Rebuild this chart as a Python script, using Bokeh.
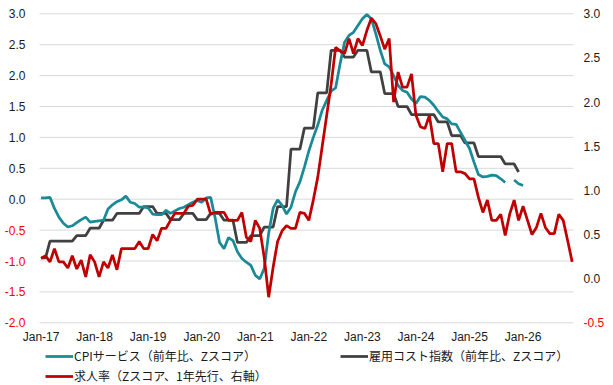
import numpy as np
from bokeh.plotting import figure
from bokeh.models import (Range1d, LinearAxis, FixedTicker, Legend, LegendItem,
                          ColumnDataSource, PrintfTickFormatter)
from bokeh.embed import file_html
from bokeh.resources import INLINE

nan = float("nan")

# ---------------- data (monthly, starting Jan-2017) ----------------
cpi_services = [
    0.02, 0.02, 0.03, -0.15, -0.29, -0.39, -0.45, -0.43, -0.38, -0.33, -0.29, -0.37,
    -0.36, -0.35, -0.34, -0.16, -0.09, -0.04, -0.01, 0.05, -0.05, -0.07, -0.13, -0.13,
    -0.14, -0.24, -0.25, -0.25, -0.18, -0.23, -0.19, -0.15, -0.13, -0.09, -0.05, -0.02,
    -0.05, 0.02, 0.03, -0.30, -0.70, -0.80, -0.62, -0.67, -0.85, -0.96, -1.02, -1.07,
    -1.23, -1.29, -1.12, -0.55, -0.15, -0.01, -0.10, -0.24, -0.13, 0.12, 0.28, 0.52,
    0.78, 1.00, 1.20, 1.44, 1.60, 1.75, 1.80, 2.19, 2.54, 2.65, 2.70, 2.81,
    2.92, 2.99, 2.92, 2.68, 2.41, 2.19, 2.14, 2.00, 1.84, 1.76, 1.73, 1.62,
    1.55, 1.66, 1.65, 1.60, 1.52, 1.42, 1.33, 1.30, 1.22, 1.21, 1.08, 0.95,
    0.82, 0.60, 0.40, 0.36, 0.37, 0.39, 0.38, 0.33, 0.27, nan, 0.31, 0.25,
    0.22,
]

employment_cost = [
    -0.95, -0.95, -0.68, -0.68, -0.68, -0.68, -0.68, -0.68, -0.59, -0.59, -0.59, -0.47,
    -0.47, -0.47, -0.34, -0.34, -0.34, -0.23, -0.23, -0.23, -0.23, -0.23, -0.23, -0.12,
    -0.12, -0.12, -0.23, -0.23, -0.23, -0.33, -0.33, -0.33, -0.23, -0.23, -0.23, -0.33,
    -0.33, -0.33, -0.23, -0.23, -0.23, -0.34, -0.34, -0.34, -0.70, -0.70, -0.70, -0.59,
    -0.59, -0.59, -0.45, -0.45, -0.45, -0.12, -0.12, -0.12, 0.81, 0.81, 0.81, 1.15,
    1.15, 1.15, 1.72, 1.72, 1.72, 2.41, 2.41, 2.41, 2.30, 2.30, 2.30, 2.41,
    2.41, 2.41, 2.06, 2.06, 2.06, 1.71, 1.71, 1.71, 1.50, 1.50, 1.50, 1.37,
    1.37, 1.37, 1.37, 1.37, 1.37, 1.25, 1.25, 1.25, 1.03, 1.03, 1.03, 0.91,
    0.91, 0.91, 0.69, 0.69, 0.69, 0.69, 0.69, 0.69, 0.57, 0.57, 0.57, 0.44,
]

job_openings = [
    0.23, 0.26, 0.19, 0.34, 0.19, 0.19, 0.12, 0.26, 0.11, 0.21, 0.02, 0.27,
    0.19, 0.02, 0.19, 0.12, 0.27, 0.10, 0.34, 0.34, 0.34, 0.34, 0.42, 0.34,
    0.34, 0.50, 0.43, 0.57, 0.57, 0.66, 0.74, 0.74, 0.74, 0.82, 0.83, 0.90,
    0.90, 0.90, 0.73, 0.75, 0.75, 0.75, 0.66, 0.66, 0.66, 0.75, 0.47, 0.42,
    0.66, 0.57, 0.24, -0.21, 0.13, 0.42, 0.54, 0.60, 0.57, 0.57, 0.75, 0.74,
    0.66, 0.89, 1.15, 1.50, 1.85, 2.20, 2.62, 2.58, 2.55, 2.72, 2.55, 2.72,
    2.64, 2.81, 2.95, 2.89, 2.75, 2.60, 2.72, 2.00, 2.34, 2.17, 2.17, 2.32,
    1.85, 1.72, 1.70, 1.85, 1.53, 1.53, 1.21, 1.53, 1.53, 1.21, 1.21, 1.19,
    1.13, 1.13, 0.92, 0.75, 0.89, 0.66, 0.66, 0.73, 0.49, 0.73, 0.89, 0.66,
    0.82, 0.66, 0.50, 0.58, 0.74, 0.58, 0.51, 0.51, 0.73, 0.66, 0.43, 0.19,
]

x_tick_labels = ["Jan-17", "Jan-18", "Jan-19", "Jan-20", "Jan-21",
                 "Jan-22", "Jan-23", "Jan-24", "Jan-25", "Jan-26"]
left_ticks = [-2.0, -1.5, -1.0, -0.5, 0.0, 0.5, 1.0, 1.5, 2.0, 2.5, 3.0]
right_ticks = [-0.5, 0.0, 0.5, 1.0, 1.5, 2.0, 2.5, 3.0]

series_names = ["CPIサービス（前年比、Zスコア）",
                "雇用コスト指数（前年比、Zスコア）",
                "求人率（Zスコア、1年先行、右軸）"]

# ---------------- styling / layout ----------------
TEAL = "#1A8A96"
GRAY = "#404040"
RED = "#C00000"
LABEL_RED = "#FF0000"
TEXT = "#1a1a1a"
LATIN = "Liberation Sans"
CJK = "Noto Sans CJK JP"

W, H = 613, 385                    # figure size
PX_L, PX_R = 39.0, 573.0           # plot area, figure pixels
PY_T, PY_B = 13.3, 322.3
X0, X1 = -0.35, 119.3              # month-index span of the plot area
LMIN, LMAX = left_ticks[0], left_ticks[-1]
RMIN, RMAX = right_ticks[0], right_ticks[-1]

sx = (X1 - X0) / (PX_R - PX_L)
sl = (LMAX - LMIN) / (PY_B - PY_T)
sr = (RMAX - RMIN) / (PY_B - PY_T)

p = figure(width=W, height=H, output_backend="svg", toolbar_location=None,
           x_range=Range1d(X0 - PX_L * sx, X1 + (W - PX_R) * sx),
           y_range=Range1d(LMIN - (H - PY_B) * sl, LMAX + PY_T * sl),
           min_border=0, min_border_left=0, min_border_right=0,
           min_border_top=0, min_border_bottom=0)
p.outline_line_color = None
p.background_fill_color = "white"
p.border_fill_color = "white"
p.extra_y_ranges = {"right": Range1d(RMIN - (H - PY_B) * sr, RMAX + PY_T * sr)}
p.xgrid.visible = False
p.ygrid.visible = False


def style_axis(ax, color, standoff):
    ax.axis_line_color = None
    ax.major_tick_line_color = None
    ax.minor_tick_line_color = None
    ax.major_tick_out = 0
    ax.major_tick_in = 0
    ax.minor_tick_out = 0
    ax.minor_tick_in = 0
    ax.major_label_standoff = standoff
    ax.major_label_text_font = LATIN
    ax.major_label_text_font_size = "12px"
    ax.major_label_text_color = color


fmt = PrintfTickFormatter(format="%.1f")
x_idx_tick = [12 * k for k in range(len(x_tick_labels))]

# x axis drawn along the bottom of the plot area
xa = p.xaxis[0]
xa.ticker = FixedTicker(ticks=x_idx_tick)
xa.major_label_overrides = {t: l for t, l in zip(x_idx_tick, x_tick_labels)}
xa.fixed_location = LMIN
style_axis(xa, TEXT, 7)

# left axis: black for >= 0, red for < 0
ya = p.yaxis[0]
ya.ticker = FixedTicker(ticks=[t for t in left_ticks if t >= 0])
ya.formatter = fmt
ya.fixed_location = X0
style_axis(ya, TEXT, 14)

ya_neg = LinearAxis(ticker=FixedTicker(ticks=[t for t in left_ticks if t < 0]),
                    formatter=fmt, fixed_location=X0)
style_axis(ya_neg, LABEL_RED, 14)
p.add_layout(ya_neg, "left")

# right axis (job openings rate)
ra = LinearAxis(y_range_name="right", formatter=fmt, fixed_location=X1,
                ticker=FixedTicker(ticks=[t for t in right_ticks if t >= 0]))
style_axis(ra, TEXT, 10)
p.add_layout(ra, "right")

ra_neg = LinearAxis(y_range_name="right", formatter=fmt, fixed_location=X1,
                    ticker=FixedTicker(ticks=[t for t in right_ticks if t < 0]))
style_axis(ra_neg, LABEL_RED, 10)
p.add_layout(ra_neg, "right")

# horizontal gridlines limited to the plot area
p.segment(x0=[X0] * len(left_ticks), x1=[X1] * len(left_ticks),
          y0=left_ticks, y1=left_ticks, line_color="#D9D9D9", line_width=1)

# lines
src_cpi = ColumnDataSource(dict(x=list(range(len(cpi_services))), y=cpi_services))
src_eci = ColumnDataSource(dict(x=list(range(len(employment_cost))), y=employment_cost))
src_job = ColumnDataSource(dict(x=list(range(len(job_openings))), y=job_openings))

r_eci = p.line("x", "y", source=src_eci, line_color=GRAY, line_width=2.75)
r_cpi = p.line("x", "y", source=src_cpi, line_color=TEAL, line_width=2.75)
r_job = p.line("x", "y", source=src_job, line_color=RED, line_width=2.75,
               y_range_name="right")

leg = Legend(items=[LegendItem(label=series_names[0], renderers=[r_cpi]),
                    LegendItem(label=series_names[2], renderers=[r_job]),
                    LegendItem(label=series_names[1], renderers=[r_eci])],
             location=(45, 1), orientation="vertical", ncols=2)
leg.border_line_color = None
leg.background_fill_alpha = 0
leg.label_text_font = CJK
leg.label_text_font_size = "12px"
leg.label_text_color = TEXT
leg.glyph_width = 28
leg.glyph_height = 14
leg.label_height = 14
leg.label_width = 263
leg.label_standoff = 1
leg.spacing = 3
leg.padding = 0
leg.margin = 0
p.add_layout(leg)

open("out.html", "w").write(file_html(p, INLINE))
